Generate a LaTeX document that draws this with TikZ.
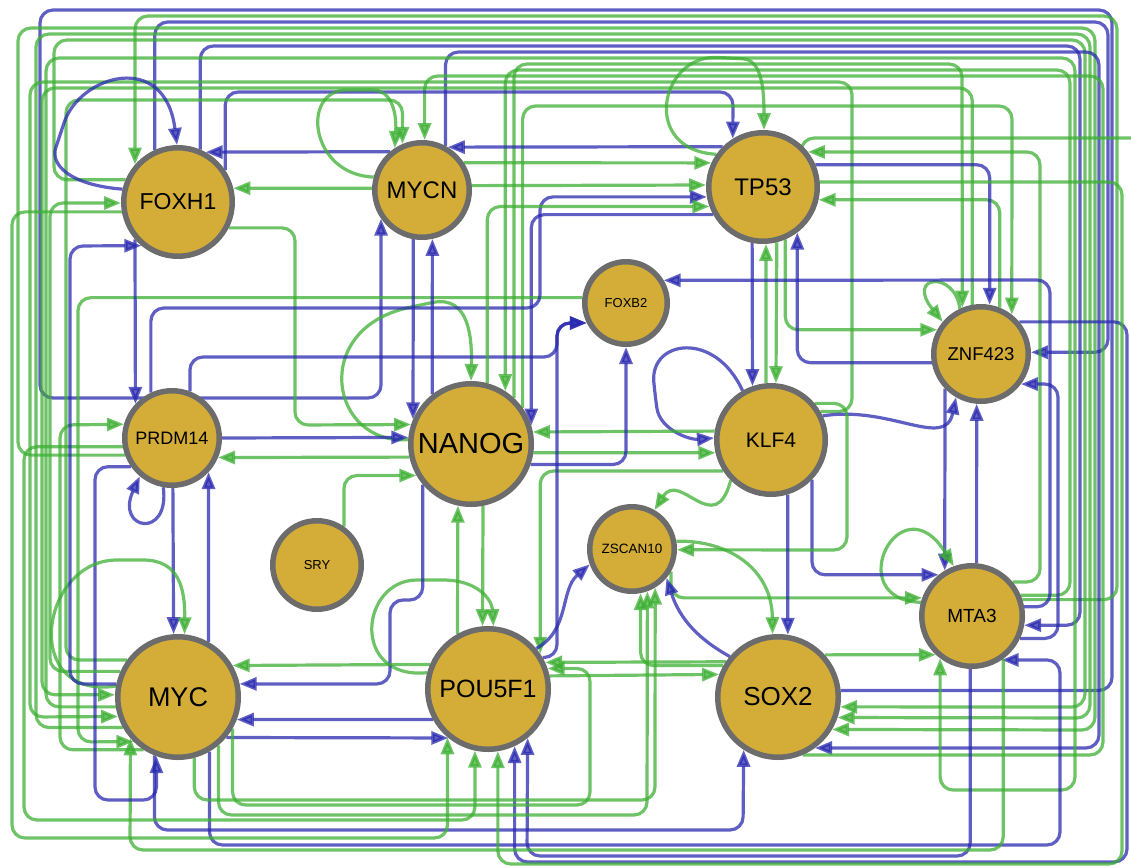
\documentclass[tikz,border=0pt]{standalone}
\usepackage{fontspec}
\setmainfont{Liberation Sans}
\usetikzlibrary{arrows.meta}
\definecolor{gc}{RGB}{60,175,50}
\definecolor{bc}{RGB}{40,40,175}
\definecolor{gold}{RGB}{212,172,56}
\definecolor{ring}{RGB}{108,108,108}
\pgfdeclarelayer{bg}
\pgfsetlayers{bg,main}
\tikzset{
 edge/.style={line width=3.2pt, opacity=0.75, rounded corners=13pt, -{Triangle[length=17pt,width=13pt]}},
 ge/.style={edge, draw=gc},
 be/.style={edge, draw=bc},
 gn/.style={circle, fill=gold, draw=ring, line width=5.5pt, inner sep=0pt, text=black},
}
\begin{document}
\begin{tikzpicture}[x=1pt,y=-1pt]
\useasboundingbox (0,0) rectangle (1131,867);
\node[gn, minimum size=108.5pt, font=\fontsize{23}{23}\selectfont] (foxh1) at (178,202) {FOXH1};
\node[gn, minimum size=94.5pt, font=\fontsize{24}{24}\selectfont] (mycn) at (422,190) {MYCN};
\node[gn, minimum size=108.5pt, font=\fontsize{24}{24}\selectfont] (tp53) at (763,187) {TP53};
\node[gn, minimum size=82.5pt, font=\fontsize{13}{13}\selectfont] (foxb2) at (626,303) {FOXB2};
\node[gn, minimum size=94.5pt, font=\fontsize{18.5}{18.5}\selectfont] (znf423) at (981,354) {ZNF423};
\node[gn, minimum size=94.5pt, font=\fontsize{18}{18}\selectfont] (prdm14) at (172,438) {PRDM14};
\node[gn, minimum size=120.5pt, font=\fontsize{29}{29}\selectfont] (nanog) at (471,444) {NANOG};
\node[gn, minimum size=108.5pt, font=\fontsize{21}{21}\selectfont] (klf4) at (771,440) {KLF4};
\node[gn, minimum size=88.5pt, font=\fontsize{13}{13}\selectfont] (sry) at (317,565) {SRY};
\node[gn, minimum size=84.5pt, font=\fontsize{13.5}{13.5}\selectfont] (zscan10) at (632,549) {ZSCAN10};
\node[gn, minimum size=100.5pt, font=\fontsize{19}{19}\selectfont] (mta3) at (972,616) {MTA3};
\node[gn, minimum size=120.5pt, font=\fontsize{27}{27}\selectfont] (myc) at (178,697) {MYC};
\node[gn, minimum size=120.5pt, font=\fontsize{25}{25}\selectfont] (pou5f1) at (488,689) {POU5F1};
\node[gn, minimum size=120.5pt, font=\fontsize{26}{26}\selectfont] (sox2) at (778,697) {SOX2};
\coordinate (edgeR) at (1131,138);
\begin{pgfonlayer}{bg}
% outer top loops
\draw[be] (sox2.6) -| (1112,10) -| (40,398) -| (mycn.-145);
\draw[ge] (mta3.18) -| (1117,16) -| (foxh1.139);
\draw[be] (foxh1.114) |- (1108,22) |- (znf423.2);
\draw[ge] (prdm14.200) -| (18,28) -| (1095,730) -- (sox2.-31.6);
\draw[ge] (myc.209.5) -| (36,34) -| (1090,718) -- (sox2.-19.5);
\draw[ge] (foxh1.157.3) -| (54,40) -| (1085,707) -- (sox2.-9.1);
\draw[be] (foxh1.67) |- (1080,46) |- (mta3.-10);
\draw[be] (mycn.62) |- (1099,52) |- (sox2.-54);
\draw[ge] (myc.189.1) -| (46,58) -| (1075,790) -| (mta3.-127);
\draw[ge] (nanog.47) |- (962,64) -- (znf423.112.3);
\draw[ge] (mta3.23) -| (1070,70) -| (nanog.57.3);
\draw[ge] (sox2.-67) -| (1103,76) -| (mycn.87);
\draw[ge] (klf4.30) -| (852,82) -| (30,717) -- (myc.198.5);
\draw[ge] (znf423.100) |- (42,88) |- (myc.178.2);
\draw[be] (foxh1.34) |- (733,92) -- (tp53.122);
\draw[ge] (myc.144) -| (66,100) -| (mycn.113.6);
\draw[ge] (nanog.35.9) |- (1012,106) -- (znf423.52);
% TP53 / ZNF423 / MTA3
\draw[ge] (mta3.40) -| (1040,152) -- (tp53.38);
\draw[ge] (znf423.68) |- (tp53.-13);
\draw[be] (tp53.23) -| (znf423.80);
\draw[ge] (tp53.-67) |- (znf423.151.3);
\draw[be] (tp53.-101) -- (klf4.109.5);
\draw[ge] (klf4.95) -- (tp53.-87);
\draw[ge] (tp53.-76.8) -- (klf4.85);
\draw[be] (znf423.190) -| (tp53.-53.4);
\draw[be] (znf423.-136) -- (mta3.121);
\draw[be] (mta3.85) -- (znf423.-95);
\draw[be] (klf4.25) .. controls (890,405) and (945,450) .. (znf423.-120);
\draw[be] (znf423.40) -| (1127,862) -| (pou5f1.-65.6);
\draw[be] (mta3.-25) -| (1058,384) -- (znf423.-37);
\draw[ge] (znf423.115) .. controls (955,270) and (905,275) .. (znf423.140);
\draw[ge] (mta3.165) .. controls (840,600) and (900,480) .. (mta3.110);
\draw[be] (klf4.-44) |- (mta3.129.3);
\draw[ge] (sox2.42) -- (mta3.227.4);
\draw[be] (myc.-60) |- (1060,845) |- (mta3.-56.1);
\draw[be] (mta3.-92) |- (527,856) -- (pou5f1.-51.8);
\draw[be] (mta3.10) -| (1050,280) -- (foxb2.31.5);
\draw[ge] (zscan10.-30) |- (mta3.160.1);
\draw[ge] (mta3.-54) |- (130,850) -- (myc.-139.6);
\draw[ge, -] (tp53.48) |- (edgeR);
% KLF4
\draw[be] (klf4.120) .. controls (715,330) and (650,340) .. (655,395) .. controls (660,430) and (690,440) .. (klf4.178);
\draw[ge] (nanog.-8.2) -- (klf4.193.2);
\draw[ge] (klf4.171.9) -- (nanog.11);
\draw[ge] (klf4.213) -| (pou5f1.34.4);
\draw[ge] (klf4.225) .. controls (715,540) and (680,470) .. (zscan10.60);
\draw[ge] (klf4.40) -| (847,550) -- (zscan10.-1);
\draw[be] (klf4.-73.7) -- (sox2.81.8);
% NANOG
\draw[ge] (nanog.176) .. controls (330,445) and (310,330) .. (420,305) .. controls (470,295) and (472,340) .. (nanog.90);
\draw[be] (prdm14.0) -- (nanog.174.5);
\draw[ge] (foxh1.-27) -| (295,425) -- (nanog.162.4);
\draw[ge] (nanog.192.8) -- (prdm14.-23.6);
\draw[ge] (pou5f1.119.5) -- (nanog.-102.8);
\draw[ge] (nanog.-79) -- (pou5f1.95);
\draw[ge] (pou5f1.165) .. controls (350,680) and (360,580) .. (430,580) .. controls (478,580) and (492,600) .. (pou5f1.85);
\draw[be] (nanog.-19.5) -| (foxb2.-90);
\draw[be] (pou5f1.30) -| (557,323) -- (foxb2.207);
\draw[be] (prdm14.69) |- (557,357) |- (foxb2.207);
\draw[be] (tp53.209.4) -| (nanog.17.75);
\draw[ge] (sry.55) |- (nanog.-150);
\draw[ge] (foxb2.173) -| (78,742) -- (myc.225.6);
% PRDM14 / MYC
\draw[ge] (myc.237.3) -| (60,425) -- (prdm14.164.9);
\draw[be] (prdm14.-100) .. controls (170,540) and (115,530) .. (prdm14.-130);
\draw[be] (prdm14.215) -| (95,800) -| (myc.-110);
\draw[be] (prdm14.-89) -- (myc.94);
\draw[be] (myc.61.6) -- (prdm14.-43.9);
\draw[be] (prdm14.115) |- (540,308) |- (tp53.190.1);
\draw[ge] (myc.170) .. controls (20,700) and (40,560) .. (130,560) .. controls (180,560) and (185,590) .. (myc.84);
\draw[be] (nanog.-140) |- (390,600) |- (myc.12.8);
\draw[ge] (pou5f1.157.6) -- (myc.30.5);
\draw[be] (myc.-40.6) -- (pou5f1.231);
\draw[be] (pou5f1.209.5) -- (myc.-21.4);
% POU5F1 / SOX2 / ZSCAN10
\draw[ge] (sox2.146.3) -- (pou5f1.25.4);
\draw[ge] (pou5f1.12.8) -- (sox2.159.6);
\draw[be] (pou5f1.40) .. controls (570,630) and (560,590) .. (zscan10.200);
\draw[ge] (sox2.150) -| (zscan10.-79.8);
\draw[be] (sox2.140) .. controls (700,640) and (680,620) .. (zscan10.-40);
\draw[ge] (zscan10.10) .. controls (730,540) and (772,570) .. (sox2.95);
\draw[ge] (myc.-75) |- (655,800) -- (zscan10.-59.3);
\draw[ge] (myc.-50) |- (647,815) -- (zscan10.-70.5);
\draw[ge] (myc.-30) |- (590,805) |- (pou5f1.19.5);
\draw[be] (myc.-112) |- (743,830) -- (sox2.-123.7);
\draw[ge] (foxh1.190) -| (12,838) -| (pou5f1.-130.6);
\draw[ge] (prdm14.190) -| (24,820) -| (pou5f1.-102.8);
\draw[ge] (tp53.5) -| (1122,864) -| (pou5f1.-81.8);
% FOXH1 / MYCN
\draw[be] (mycn.130.5) -- (foxh1.61.3);
\draw[ge] (mycn.178) -- (foxh1.14);
\draw[ge] (myc.156.6) -| (50,203) -- (foxh1.181);
\draw[be] (myc.168.1) -| (70,246) -- (foxh1.230.5);
\draw[be] (foxh1.-139) -- (prdm14.137.7);
\draw[be] (foxh1.167) .. controls (70,185) and (50,165) .. (60,135) .. controls (80,75) and (165,50) .. (foxh1.91);
\draw[ge] (mycn.165) .. controls (310,175) and (300,90) .. (360,90) .. controls (390,90) and (397,110) .. (mycn.123);
\draw[be] (tp53.135.4) -- (mycn.59.3);
\draw[ge] (mycn.33) -- (tp53.155.1);
\draw[ge] (mycn.5) -- (tp53.178);
\draw[ge] (nanog.75.3) |- (tp53.200.5);
\draw[be] (mycn.-100.4) -- (nanog.157);
\draw[be] (nanog.128.2) -- (mycn.-78.5);
\draw[ge] (tp53.145) .. controls (640,150) and (660,55) .. (730,58) .. controls (762,60) and (764,90) .. (tp53.89);
\end{pgfonlayer}
\end{tikzpicture}
\end{document}
